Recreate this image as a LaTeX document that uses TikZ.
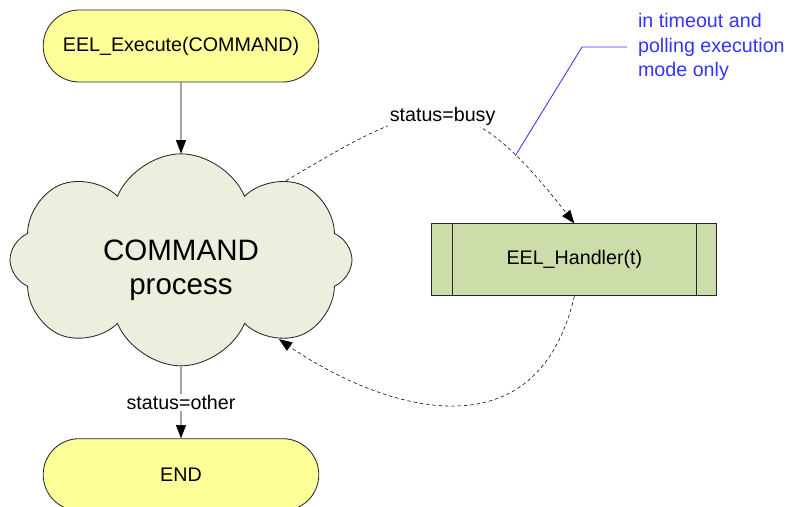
\documentclass[tikz,border=0pt]{standalone}
\usepackage{fontspec}
\setmainfont{Liberation Sans}
\usepackage{tikz}
\usetikzlibrary{shapes.misc,shapes.symbols}
\usetikzlibrary{arrows.meta}
\usetikzlibrary{positioning}

\definecolor{termyellow}{RGB}{255,255,153}
\definecolor{cloudgreen}{RGB}{235,240,222}
\definecolor{boxgreen}{RGB}{205,221,170}
\definecolor{noteblue}{RGB}{51,51,255}

\tikzset{
  terminal/.style={rounded rectangle, draw=black!85, fill=termyellow, line width=0.6pt,
    minimum width=7.125cm, minimum height=1.8cm},
  cloudbox/.style={cloud, cloud puffs=8, cloud puff arc=135, aspect=1.6, draw=black!85,
    fill=cloudgreen, line width=0.6pt, minimum width=8.55cm, minimum height=5.3cm,
    inner sep=0pt, align=center, text height=1.85cm, text depth=0.1cm,
    font=\fontsize{21}{24.5}\selectfont},
  procbox/.style={rectangle, draw=black!85, fill=boxgreen, line width=0.6pt,
    minimum width=7.125cm, minimum height=1.8cm},
  notetext/.style={text=noteblue, align=left, inner xsep=0.27cm,
    font=\fontsize{14}{17.4}\selectfont},
  lbl/.style={fill=white, inner sep=1pt},
  callout/.style={draw=noteblue, line width=0.6pt}
}

\begin{document}
\begin{tikzpicture}
    [every node/.style={font=\fontsize{14}{17}\selectfont},
     >={Triangle[length=0.33cm,width=0.25cm]}]
    \useasboundingbox (0,0) rectangle (19.7,-12.65);

    \node (exec) [terminal] at (4.525,-1.15) {EEL\_Execute(COMMAND)};
    \node (proc) [cloudbox, below = 1.775cm of exec] {COMMAND\\process};
    \node (fin) [terminal, below = 1.8cm of proc] {END};
    \node (hdl) [procbox, right = 1.975cm of proc] {EEL\_Handler(t)};
    \node (note) [notetext, anchor=west] at (15.675,-1.175)
      {in timeout and\\polling execution\\mode only};

    % sub-process bars
    \draw [line width=0.6pt, draw=black!85] ([xshift=0.525cm]hdl.north west) -- ([xshift=0.525cm]hdl.south west);
    \draw [line width=0.6pt, draw=black!85] ([xshift=-0.525cm]hdl.north east) -- ([xshift=-0.525cm]hdl.south east);

    \draw [->] (exec) -- (proc);
    \draw [->] (proc) -- node [lbl] {status=other} (fin);
    \draw [->, dash pattern=on 2.5pt off 2pt] (proc.37) .. controls +(3.625,2.15) and +(-2.8,3.575) ..
      node [lbl] {status=busy} coordinate [pos=0.8] (tap) (hdl.north);
    \draw [->, dash pattern=on 2.5pt off 2pt] (hdl.south) .. controls +(-1,-4.25) and +(2.275,-1.575) .. (proc.-39);

    \draw [callout] (tap) -- ([xshift=-1.125cm]note.west) -- (note.west);
  \end{tikzpicture}
\end{document}
